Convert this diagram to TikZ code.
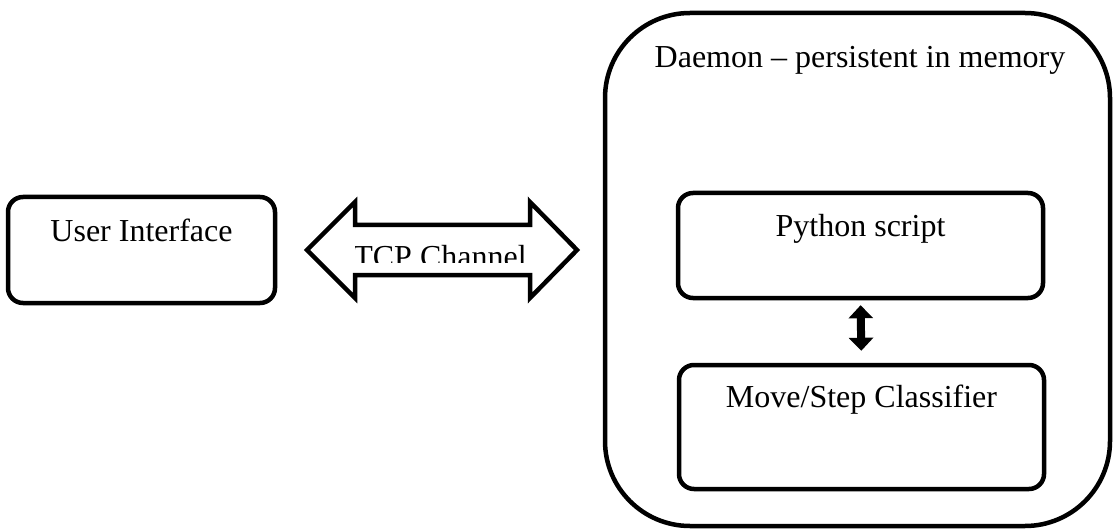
\documentclass[tikz,border=0pt]{standalone}
\usepackage{fontspec}
\setmainfont{Liberation Serif}
\usetikzlibrary{arrows.meta,calc}
\begin{document}
\begin{tikzpicture}[x=1pt,y=-1pt,
  box/.style={draw=black,line width=4.5pt,rounded corners=15pt,rectangle,inner sep=0pt},
  txt/.style={font=\fontsize{32}{38}\selectfont,inner sep=0pt,anchor=base}]
\useasboundingbox (0,0) rectangle (1115,529);
% daemon
\node[box,rounded corners=85pt,minimum width=505pt,minimum height=513pt] (dm) at (857.5,269.5) {};
\node[txt] (dmt) at ($(dm.north)+(2.5,57)$) {Daemon -- persistent in memory};
% user interface
\node[box,minimum width=267pt,minimum height=106pt] (ui) at (141.5,250) {};
\node[txt] (uit) at ($(ui.north)+(0,47)$) {User Interface};
% python
\node[box,minimum width=365pt,minimum height=105pt] (py) at (860.5,245.5) {};
\node[txt] (pyt) at ($(py.north)+(0,46)$) {Python script};
% classifier
\node[box,minimum width=365pt,minimum height=124pt] (mv) at (861.5,427) {};
\node[txt] (mvt) at ($(mv.north)+(0,45)$) {Move/Step Classifier};
% small arrow
\draw[line width=8pt,{Triangle[width=24pt,length=13pt]}-{Triangle[width=24pt,length=13pt]},shorten <=5pt,shorten >=12pt] (py.south) -- (mv.north);
% TCP channel
\begin{scope}
\clip (355,240) rectangle (530,262);
\node[txt] (tcp) at (440,267) {TCP Channel};
\end{scope}
\coordinate (la) at (307,250);
\coordinate (ra) at (577,250);
\draw[line width=4.5pt,line join=miter]
  (la) -- (355,202) -- (355,225) -- (530,225) -- (530,202) -- (ra)
  -- (530,298) -- (530,275) -- (355,275) -- (355,298) -- cycle;
\end{tikzpicture}
\end{document}
